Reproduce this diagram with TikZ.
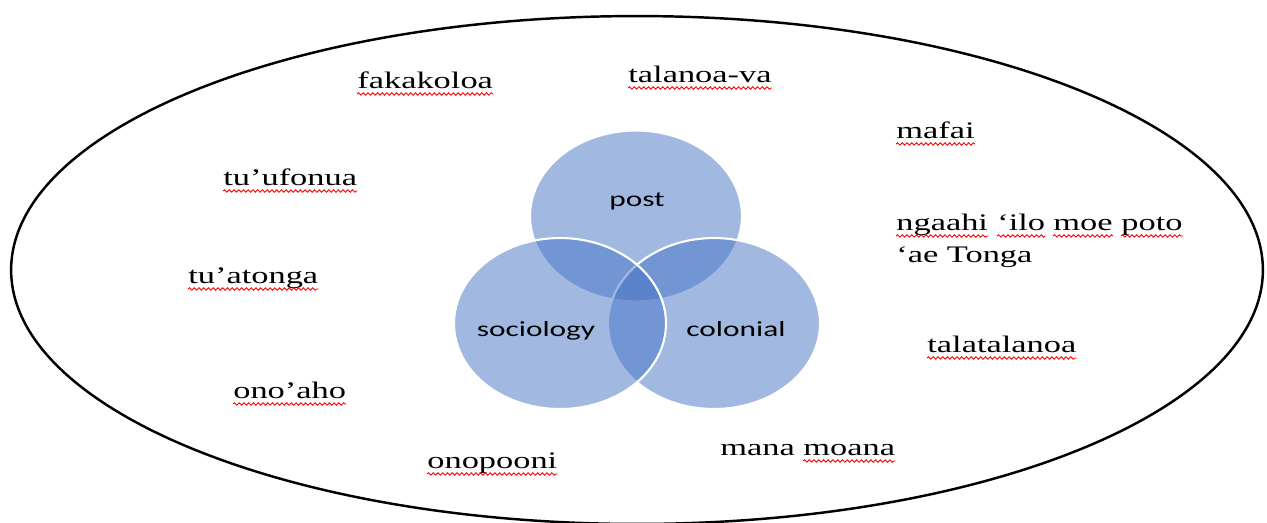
\documentclass[tikz,border=0pt]{standalone}
\usepackage{fontspec}
\setmainfont{Liberation Serif}
\newfontfamily\calibrifont{Carlito}
\usetikzlibrary{decorations.pathmorphing}
\definecolor{vennblue}{RGB}{68,114,196}
\newcommand{\widetext}[1]{\scalebox{1.45}[1]{#1}}
\tikzset{
  word/.style={anchor=base west, inner sep=0pt, font=\fontsize{13.5pt}{16pt}\selectfont},
  setlabel/.style={anchor=base, inner sep=0pt, font=\calibrifont\fontsize{12.3pt}{15pt}\selectfont},
  squiggle/.style={red, line width=0.5pt, decorate, decoration={snake, amplitude=0.7pt, segment length=2.7pt}},
  vennset/.style={fill=vennblue, fill opacity=0.5, draw=white, line width=1.2pt}
}
\begin{document}
\begin{tikzpicture}[x=0.02cm, y=-0.02cm]
            \useasboundingbox (0,0) rectangle (1267,522);
            \clip (0,0) rectangle (1267,522);

            % Drawing the outer ellipse
            \draw [line width=1.4pt] (637,270) ellipse [x radius=12.52cm, y radius=5.08cm];%

            % Drawing the three sets
            \draw [vennset] (636,216) ellipse [x radius=2.12cm, y radius=1.71cm];%
            \draw [vennset] (714,323.5) ellipse [x radius=2.12cm, y radius=1.71cm];%
            \draw [vennset] (560,323.5) ellipse [x radius=2.12cm, y radius=1.71cm];%

            % Labels of the sets
            \draw (637,206) node (post) [setlabel] {\widetext{post}};%
            \draw (536,336) node (sociology) [setlabel] {\widetext{sociology}};%
            \draw (736,336) node (colonial) [setlabel] {\widetext{colonial}};%

            % Words round the sets
            \draw (357,88) node (fakakoloa) [word] {\widetext{fakakoloa}};%
            \draw (628,82) node (talanoava) [word] {\widetext{talanoa-va}};%
            \draw (896,138) node (mafai) [word] {\widetext{mafai}};%
            \draw (896,230) node (ngaahi) [word] {\widetext{ngaahi}};%
            \draw (997,230) node (ilo) [word] {\widetext{‘ilo}};%
            \draw (1053,230) node (moe) [word] {\widetext{moe}};%
            \draw (1121,230) node (poto) [word] {\widetext{poto}};%
            \draw (896,262) node (aetonga) [word] {\widetext{‘ae Tonga}};%
            \draw (223,185) node (tuufonua) [word] {\widetext{tu’ufonua}};%
            \draw (188,283) node (tuatonga) [word] {\widetext{tu’atonga}};%
            \draw (233,398) node (onoaho) [word] {\widetext{ono’aho}};%
            \draw (427,468) node (onopooni) [word] {\widetext{onopooni}};%
            \draw (927,352) node (talatalanoa) [word] {\widetext{talatalanoa}};%
            \draw (720,455) node (mana) [word] {\widetext{mana}};%
            \draw (803,455) node (moana) [word] {\widetext{moana}};%

            % Spelling marks under the words
            \draw [squiggle] ([yshift=-3.4pt]fakakoloa.base west) -- ([yshift=-3.4pt]fakakoloa.base east);%
            \draw [squiggle] ([yshift=-3.4pt]talanoava.base west) -- ([yshift=-3.4pt]talanoava.base east);%
            \draw [squiggle] ([yshift=-3.4pt]mafai.base west) -- ([yshift=-3.4pt]mafai.base east);%
            \draw [squiggle] ([yshift=-3.4pt]ngaahi.base west) -- ([yshift=-3.4pt]ngaahi.base east);%
            \draw [squiggle] ([yshift=-3.4pt]ilo.base west) -- ([yshift=-3.4pt]ilo.base east);%
            \draw [squiggle] ([yshift=-3.4pt]moe.base west) -- ([yshift=-3.4pt]moe.base east);%
            \draw [squiggle] ([yshift=-3.4pt]poto.base west) -- ([yshift=-3.4pt]poto.base east);%
            \draw [squiggle] ([yshift=-3.4pt]tuufonua.base west) -- ([yshift=-3.4pt]tuufonua.base east);%
            \draw [squiggle] ([yshift=-3.4pt]tuatonga.base west) -- ([yshift=-3.4pt]tuatonga.base east);%
            \draw [squiggle] ([yshift=-3.4pt]onoaho.base west) -- ([yshift=-3.4pt]onoaho.base east);%
            \draw [squiggle] ([yshift=-3.4pt]onopooni.base west) -- ([yshift=-3.4pt]onopooni.base east);%
            \draw [squiggle] ([yshift=-3.4pt]talatalanoa.base west) -- ([yshift=-3.4pt]talatalanoa.base east);%
            \draw [squiggle] ([yshift=-3.4pt]moana.base west) -- ([yshift=-3.4pt]moana.base east);%
\end{tikzpicture}
\end{document}
